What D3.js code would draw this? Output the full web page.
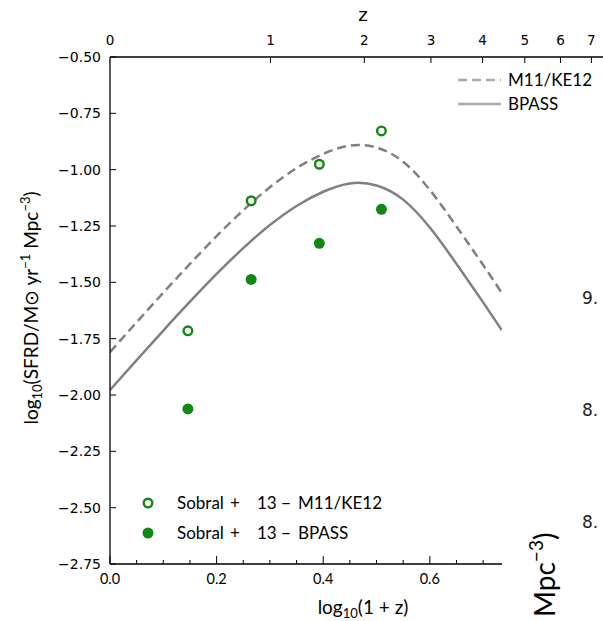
<!DOCTYPE html>
<html><head><meta charset="utf-8">
<script src="https://cdn.jsdelivr.net/npm/d3@7"></script>
<style>body{margin:0;background:#fff}svg{display:block}</style>
</head><body>
<svg id="c" width="603" height="621"></svg>
<script>
// ---- data ----
const curveX = [0.00,0.05,0.10,0.15,0.20,0.25,0.30,0.35,0.40,0.45,0.50,0.55,0.60,0.65,0.70,0.735];
const m11 =   [-1.810,-1.677,-1.546,-1.418,-1.295,-1.180,-1.078,-0.993,-0.930,-0.893,-0.902,-0.965,-1.090,-1.252,-1.423,-1.547];
const bpass = [-1.978,-1.845,-1.714,-1.586,-1.463,-1.348,-1.246,-1.161,-1.098,-1.061,-1.070,-1.133,-1.257,-1.418,-1.589,-1.712];
const sobralZ = [0.40,0.84,1.47,2.23];
const sobralM11 = [-1.715,-1.138,-0.976,-0.828];
const sobralBPASS = [-2.062,-1.487,-1.327,-1.176];
const yTicks = [-0.50,-0.75,-1.00,-1.25,-1.50,-1.75,-2.00,-2.25,-2.50,-2.75];
const xTicks = [0.0,0.2,0.4,0.6];
const xMinor = [0.05,0.1,0.15,0.25,0.3,0.35,0.45,0.5,0.55,0.65,0.7];
const zTicks = [0,1,2,3,4,5,6,7];
const rightLabels = ["9.", "8.", "8."];

const svg = d3.select("#c");
const x = d3.scaleLinear().domain([0,0.95]).range([110,616.4]);
const y = d3.scaleLinear().domain([-0.5,-2.75]).range([57,564]);
const xEnd = 502;
const green = "#118811", grey = "#808080";
const tickFont = "DejaVu Sans", labFont = "Lato";

// clip for main panel
svg.append("clipPath").attr("id","clp").append("rect").attr("x",110).attr("y",57).attr("width",xEnd-110).attr("height",507);

const line = d3.line().x(d=>x(d[0])).y(d=>y(d[1])).curve(d3.curveNatural);
const g = svg.append("g").attr("clip-path","url(#clp)");
g.append("path").datum(curveX.map((v,i)=>[v,m11[i]])).attr("d",line)
  .attr("fill","none").attr("stroke",grey).attr("stroke-width",2.5).attr("stroke-dasharray","9,5");
g.append("path").datum(curveX.map((v,i)=>[v,bpass[i]])).attr("d",line)
  .attr("fill","none").attr("stroke",grey).attr("stroke-width",2.5);

// points
svg.selectAll(".pf").data(sobralZ).join("circle")
  .attr("cx",z=>x(Math.log10(1+z))).attr("cy",(z,i)=>y(sobralBPASS[i])).attr("r",5.5).attr("fill",green);
svg.selectAll(".po").data(sobralZ).join("circle")
  .attr("cx",z=>x(Math.log10(1+z))).attr("cy",(z,i)=>y(sobralM11[i])).attr("r",4.3)
  .attr("fill","#fff").attr("stroke",green).attr("stroke-width",2.4);

// axes lines
svg.append("line").attr("x1",110).attr("x2",110).attr("y1",57).attr("y2",564).attr("stroke","#000").attr("stroke-width",1.3);
svg.append("line").attr("x1",110).attr("x2",xEnd).attr("y1",564).attr("y2",564).attr("stroke","#000").attr("stroke-width",1.3);
svg.append("line").attr("x1",110).attr("x2",603).attr("y1",57).attr("y2",57).attr("stroke","#000").attr("stroke-width",1.3);

// y ticks
yTicks.forEach(v=>{
  svg.append("line").attr("x1",110).attr("x2",116).attr("y1",y(v)).attr("y2",y(v)).attr("stroke","#000").attr("stroke-width",1);
  svg.append("text").attr("x",101).attr("y",y(v)).attr("dy","0.36em").attr("text-anchor","end")
    .attr("font-family",tickFont).attr("font-size",14).text(d3.format(".2f")(v).replace("-","\u2212"));
});
// x ticks
xTicks.forEach(v=>{
  svg.append("line").attr("x1",x(v)).attr("x2",x(v)).attr("y1",564).attr("y2",556).attr("stroke","#000").attr("stroke-width",1);
  svg.append("text").attr("x",x(v)).attr("y",584).attr("text-anchor","middle")
    .attr("font-family",labFont).attr("font-size",14.5).text(d3.format(".1f")(v));
});
xMinor.forEach(v=>{
  svg.append("line").attr("x1",x(v)).attr("x2",x(v)).attr("y1",564).attr("y2",560).attr("stroke","#000").attr("stroke-width",1);
});
// top z ticks
zTicks.forEach(z=>{
  const px = x(Math.log10(1+z));
  if (z>0) svg.append("line").attr("x1",px).attr("x2",px).attr("y1",57).attr("y2",63).attr("stroke","#000").attr("stroke-width",1);
  svg.append("text").attr("x",px).attr("y",45).attr("text-anchor","middle")
    .attr("font-family",tickFont).attr("font-size",13.5).text(z);
});
svg.append("text").attr("x",363).attr("y",21).attr("text-anchor","middle").attr("font-family",tickFont).attr("font-size",18).text("z");

// axis labels
const xl = svg.append("text").attr("x",363).attr("y",614).attr("text-anchor","middle").attr("font-family",labFont).attr("font-size",19);
xl.append("tspan").text("log");
xl.append("tspan").attr("font-size",13).attr("dy",4).text("10");
xl.append("tspan").attr("dy",-4).text("(1 + z)");

const yl = svg.append("text").attr("transform","translate(38,308) rotate(-90)").attr("text-anchor","middle")
  .attr("font-family",labFont).attr("font-size",19);
yl.append("tspan").text("log");
yl.append("tspan").attr("font-size",13).attr("dy",4).text("10");
yl.append("tspan").attr("dy",-4).text("(SFRD/M\u2299 yr");
yl.append("tspan").attr("font-size",13).attr("dy",-8).text("\u22121");
yl.append("tspan").attr("dy",8).text(" Mpc");
yl.append("tspan").attr("font-size",13).attr("dy",-8).text("\u22123");
yl.append("tspan").attr("dy",8).text(")");

// legend top right
const legTR = [{t:"M11/KE12",dash:"9,5",yy:80},{t:"BPASS",dash:null,yy:104}];
legTR.forEach(d=>{
  svg.append("line").attr("x1",458).attr("x2",501).attr("y1",d.yy).attr("y2",d.yy)
    .attr("stroke","#aaa").attr("stroke-width",2.5).attr("stroke-dasharray",d.dash);
  svg.append("text").attr("x",508).attr("y",d.yy).attr("dy","0.36em").attr("font-family",labFont).attr("font-size",17).text(d.t);
});
// legend bottom left
const legBL = [{t:"M11/KE12",open:true,yy:503},{t:"BPASS",open:false,yy:533}];
legBL.forEach(d=>{
  const c = svg.append("circle").attr("cx",148).attr("cy",d.yy);
  if (d.open) c.attr("r",4.3).attr("fill","#fff").attr("stroke",green).attr("stroke-width",2.4);
  else c.attr("r",5.5).attr("fill",green);
  const parts = [["Sobral",177],["+",230],["13",257],["\u2212",281],[d.t,298]];
  parts.forEach(p=>svg.append("text").attr("x",p[1]).attr("y",d.yy).attr("dy","0.36em")
    .attr("font-family",labFont).attr("font-size",17).text(p[0]));
});

// remnants of neighbouring panel
const rY = [298,410,522];
rightLabels.forEach((t,i)=>svg.append("text").attr("x",582).attr("y",rY[i]).attr("dy","0.36em")
  .attr("font-family",tickFont).attr("font-size",17).attr("fill","#222").text(t));
const rl = svg.append("text").attr("transform","translate(555,617) rotate(-90)").attr("font-family",labFont).attr("font-size",28);
rl.append("tspan").text("Mpc");
rl.append("tspan").attr("font-size",19).attr("dy",-12).text("\u22123");
rl.append("tspan").attr("dy",12).text(")");
</script>
</body></html>
